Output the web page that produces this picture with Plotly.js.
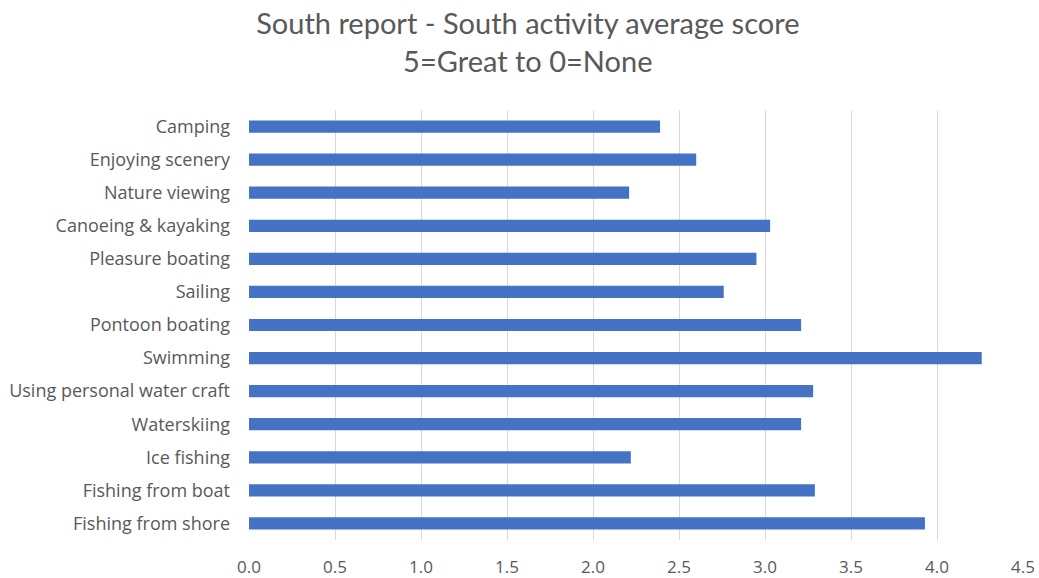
<!DOCTYPE html>
<html>
<head>
<meta charset="utf-8">
<script src="https://cdn.plot.ly/plotly-3.0.1.min.js"></script>
<style>html,body{margin:0;padding:0;background:#fff;}#chart{width:1039px;height:578px;}</style>
</head>
<body>
<div id="chart"></div>
<script>
const categories = ["Camping","Enjoying scenery","Nature viewing","Canoeing & kayaking","Pleasure boating","Sailing","Pontoon boating","Swimming","Using personal water craft","Waterskiing","Ice fishing","Fishing from boat","Fishing from shore"];
const scores = [2.39,2.60,2.21,3.03,2.95,2.76,3.21,4.26,3.28,3.21,2.22,3.29,3.93];
const xTickVals = [0,0.5,1,1.5,2,2.5,3,3.5,4,4.5];
const xTickText = ["0.0","0.5","1.0","1.5","2.0","2.5","3.0","3.5","4.0","4.5"];

const titleFont = "Lato, 'Open Sans', sans-serif";
const labelFont = "'Open Sans', 'Noto Sans', sans-serif";
Plotly.newPlot('chart', [{
  type: 'bar',
  orientation: 'h',
  y: categories,
  x: scores,
  marker: {color: '#4472C4'},
  width: 0.37,
  hoverinfo: 'x+y'
}], {
  width: 1039, height: 578,
  margin: {l: 249, r: 16, t: 110, b: 38},
  paper_bgcolor: '#fff', plot_bgcolor: '#fff',
  showlegend: false,
  title: {
    text: 'South report - South activity average score<br>5=Great to 0=None',
    font: {family: titleFont, size: 29, color: '#595959'},
    x: 0.508, xanchor: 'center', yref: 'container', y: 0.941, yanchor: 'middle'
  },
  xaxis: {
    range: [0, 4.5],
    tickvals: xTickVals, ticktext: xTickText,
    showgrid: true, gridcolor: '#d9d9d9', gridwidth: 1,
    zeroline: false, showline: false,
    ticks: '', ticklabelstandoff: 15,
    tickfont: {family: labelFont, size: 17, color: '#595959'},
    fixedrange: true
  },
  yaxis: {
    autorange: 'reversed',
    type: 'category',
    showgrid: false, zeroline: false,
    showline: false,
    ticks: '', ticklabelstandoff: 18,
    tickfont: {family: labelFont, size: 18, color: '#595959'},
    fixedrange: true
  }
}, {displayModeBar: false, staticPlot: true});
</script>
</body>
</html>
